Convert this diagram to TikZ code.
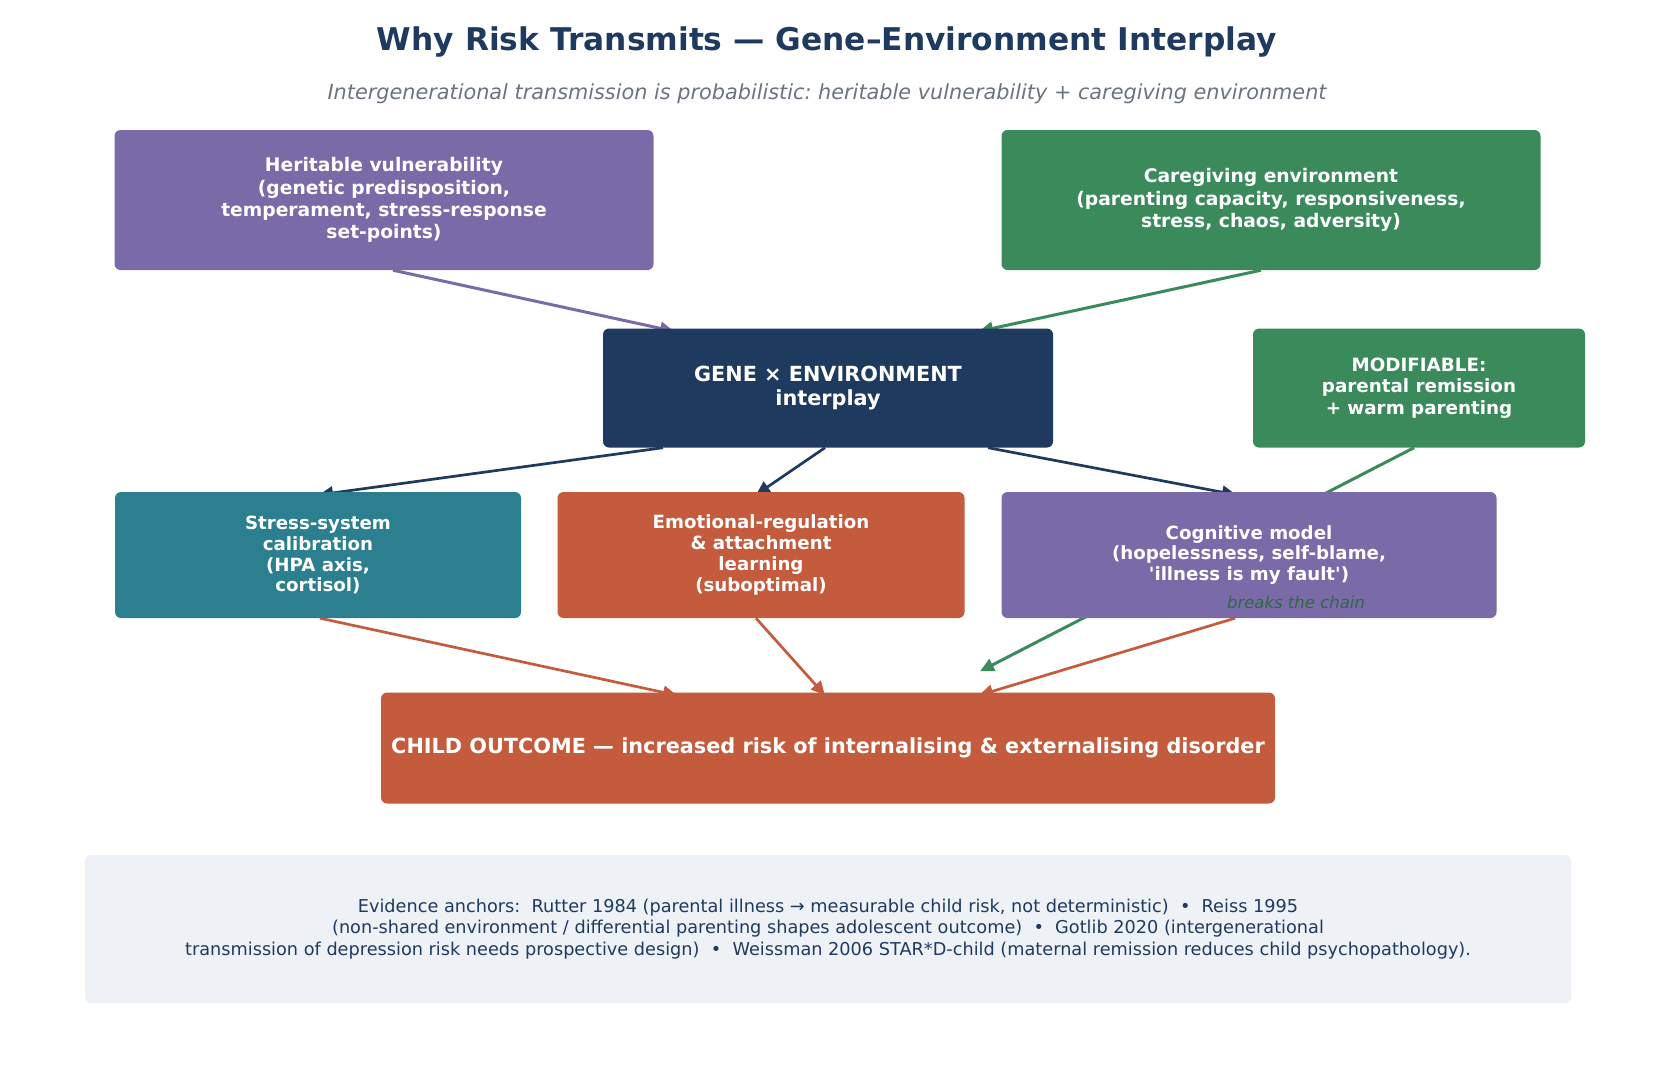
\documentclass[tikz,border=0pt]{standalone}
\usepackage{fontspec}
\setmainfont{DejaVu Sans}
\usetikzlibrary{arrows.meta,backgrounds}
\definecolor{navy}{HTML}{1F3A5F}
\definecolor{purp}{HTML}{7A6BA8}
\definecolor{grn}{HTML}{3A8A5C}
\definecolor{teal2}{HTML}{2C7F8E}
\definecolor{rust}{HTML}{C45B3C}
\definecolor{footbg}{HTML}{EEF2F7}
\definecolor{subgray}{HTML}{6B7280}
\frenchspacing
\begin{document}
\begin{tikzpicture}[x=1pt,y=-1pt,
  box/.style={rounded corners=6pt, inner sep=0pt, align=center, text=white},
  conn/.style={-{Triangle[length=14pt,width=13pt]}, line width=2.7pt},
  thick conn/.style={-{Triangle[length=14pt,width=13pt]}, line width=3pt}]
\useasboundingbox (0,0) rectangle (1655,1066);

\node[font=\bfseries\fontsize{31.3}{37}\selectfont, text=navy] (title) at (827,42) {Why Risk Transmits — Gene–Environment Interplay};
\node[font=\itshape\fontsize{20.8}{25}\selectfont, text=subgray] (sub) at (827,94) {Intergenerational transmission is probabilistic: heritable vulnerability + caregiving environment};

\node[box, fill=purp, minimum width=539pt, minimum height=140pt, font=\bfseries\fontsize{18.7}{22.2}\selectfont] (her) at (384,200)
  {Heritable vulnerability\\(genetic predisposition,\\temperament, stress-response\\set-points)};
\node[box, fill=grn, minimum width=539pt, minimum height=140pt, font=\bfseries\fontsize{18.7}{22.2}\selectfont] (care) at (1271,200)
  {Caregiving environment\\(parenting capacity, responsiveness,\\stress, chaos, adversity)};
\node[box, fill=navy, minimum width=450pt, minimum height=119pt, font=\bfseries\fontsize{20.8}{23.6}\selectfont] (gxe) at (828,388)
  {GENE × ENVIRONMENT\\interplay};
\node[box, fill=grn, minimum width=332pt, minimum height=119pt, font=\bfseries\fontsize{18.3}{21.2}\selectfont] (mod) at (1419,388)
  {MODIFIABLE:\\parental remission\\+ warm parenting};
\node[box, fill=teal2, minimum width=406pt, minimum height=126pt, font=\bfseries\fontsize{18.2}{20.9}\selectfont] (stress) at (318,555)
  {Stress-system\\calibration\\(HPA axis,\\cortisol)};
\node[box, fill=rust, minimum width=407pt, minimum height=126pt, font=\bfseries\fontsize{18.2}{20.9}\selectfont] (emo) at (761,555)
  {Emotional-regulation\\\& attachment\\learning\\(suboptimal)};
\node[box, fill=purp, minimum width=495pt, minimum height=126pt, font=\bfseries\fontsize{18.2}{20.9}\selectfont] (cog) at (1249,555)
  {Cognitive model\\(hopelessness, self-blame,\\\textquotesingle illness is my fault\textquotesingle)};
\node[box, fill=rust, minimum width=894pt, minimum height=111pt, font=\bfseries\fontsize{20.8}{25}\selectfont] (child) at (828,748)
  {CHILD OUTCOME — increased risk of internalising \& externalising disorder};
\node[rounded corners=6pt, fill=footbg, minimum width=1486pt, minimum height=148pt, inner sep=0pt] (foot) at (828,929) {};
\node[align=center, text=navy, font=\fontsize{17.7}{21.2}\selectfont] (foottxt) at (foot.center)
  {Evidence anchors:~ Rutter 1984 (parental illness → measurable child risk, not deterministic)~ •~ Reiss 1995\\
   (non-shared environment / differential parenting shapes adolescent outcome)~ •~ Gotlib 2020 (intergenerational\\
   transmission of depression risk needs prospective design)~ •~ Weissman 2006 STAR*D-child (maternal remission reduces child psychopathology).};

\node[font=\itshape\fontsize{16.5}{20}\selectfont, text=grn!75!black] (brk) at (1296,602) {breaks the chain};

\coordinate (modend) at ([xshift=152pt,yshift=21pt]child.north);

\begin{pgfonlayer}{background}
\draw[thick conn, purp] ([xshift=9pt]her.south) -- ([xshift=-154pt,yshift=-3pt]gxe.north);
\draw[thick conn, grn] ([xshift=-10pt]care.south) -- ([xshift=151pt,yshift=-3pt]gxe.north);
\draw[conn, navy] ([xshift=-165pt]gxe.south) -- ([xshift=1pt,yshift=-3pt]stress.north);
\draw[conn, navy] ([xshift=-3pt]gxe.south) -- ([xshift=-5pt,yshift=-3pt]emo.north);
\draw[conn, navy] ([xshift=160pt]gxe.south) -- ([xshift=-13pt,yshift=-3pt]cog.north);
\draw[thick conn, grn] ([xshift=-5pt]mod.south) -- (modend);
\draw[conn, rust] ([xshift=2pt]stress.south) -- ([xshift=-151pt,yshift=-3pt]child.north);
\draw[conn, rust] ([xshift=-5pt]emo.south) -- ([xshift=-3pt,yshift=-3pt]child.north);
\draw[conn, rust] ([xshift=-14pt]cog.south) -- ([xshift=151pt,yshift=-3pt]child.north);
\end{pgfonlayer}
\end{tikzpicture}
\end{document}
